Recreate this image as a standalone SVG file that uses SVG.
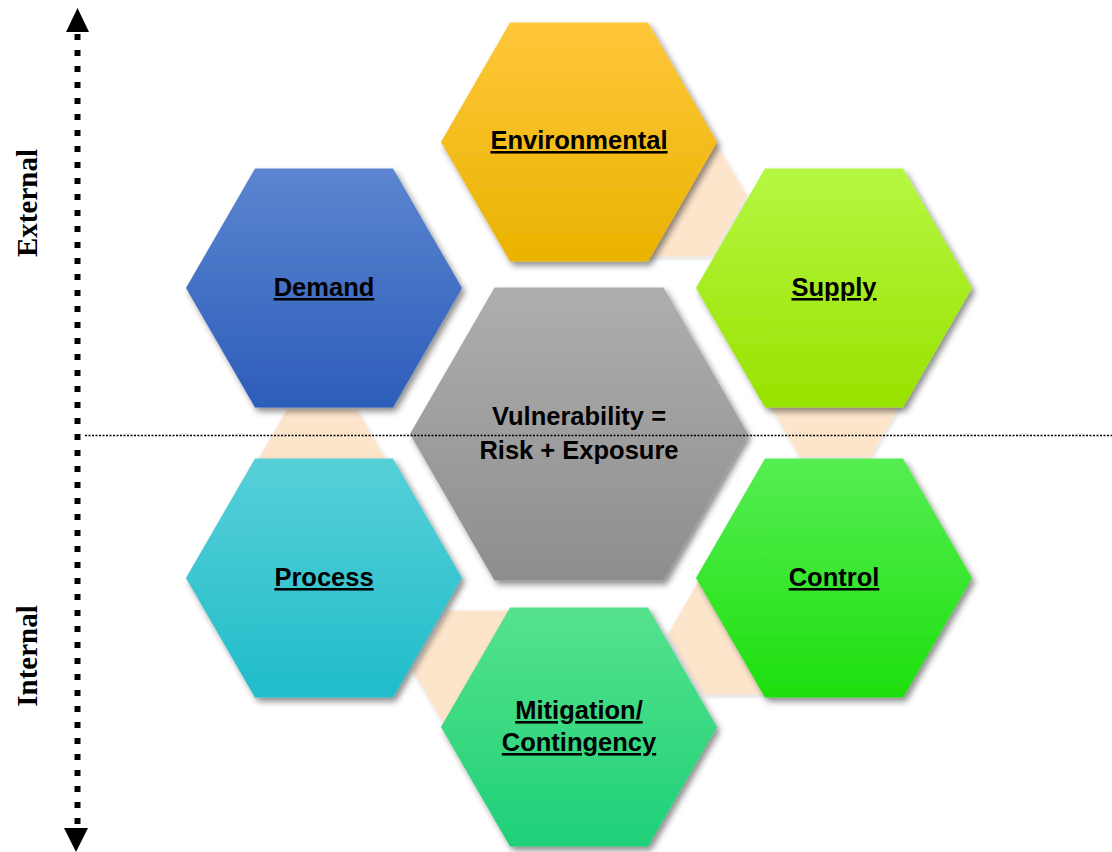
<svg xmlns="http://www.w3.org/2000/svg" width="1112" height="852" viewBox="0 0 1112 852">
<defs>
<style>
.lbl{font-family:"Liberation Sans",Arial,sans-serif;font-weight:bold;font-size:25.5px;fill:#000;text-anchor:middle;text-decoration:underline}
.ctr{font-family:"Liberation Sans",Arial,sans-serif;font-weight:bold;font-size:25.5px;fill:#000;text-anchor:middle}
.side{font-family:"Liberation Serif","Times New Roman",serif;font-weight:bold;font-size:29px;fill:#000;text-anchor:middle}
.conn{fill:#FDE5CC}
</style>
<filter id="sh" x="-20%" y="-20%" width="140%" height="140%">
<feDropShadow dx="3" dy="4" stdDeviation="3" flood-color="#000" flood-opacity="0.45"/>
</filter>
<filter id="sh2" x="-20%" y="-20%" width="140%" height="140%">
<feDropShadow dx="1" dy="2" stdDeviation="2" flood-color="#000" flood-opacity="0.15"/>
</filter>
<linearGradient id="gEnv" x1="0" y1="0" x2="0" y2="1"><stop offset="0" stop-color="#FFC73A"/><stop offset="1" stop-color="#E9B300"/></linearGradient>
<linearGradient id="gDem" x1="0" y1="0" x2="0" y2="1"><stop offset="0" stop-color="#5C85D0"/><stop offset="1" stop-color="#2C5DBA"/></linearGradient>
<linearGradient id="gSup" x1="0" y1="0" x2="0" y2="1"><stop offset="0" stop-color="#B5F742"/><stop offset="1" stop-color="#98E200"/></linearGradient>
<linearGradient id="gCen" x1="0" y1="0" x2="0" y2="1"><stop offset="0" stop-color="#AEAEAE"/><stop offset="1" stop-color="#8E8E8E"/></linearGradient>
<linearGradient id="gPro" x1="0" y1="0" x2="0" y2="1"><stop offset="0" stop-color="#57D0D8"/><stop offset="1" stop-color="#20BCCA"/></linearGradient>
<linearGradient id="gCon" x1="0" y1="0" x2="0" y2="1"><stop offset="0" stop-color="#55EE52"/><stop offset="1" stop-color="#1EDF0E"/></linearGradient>
<linearGradient id="gMit" x1="0" y1="0" x2="0" y2="1"><stop offset="0" stop-color="#55E28D"/><stop offset="1" stop-color="#1FD078"/></linearGradient>
</defs>
<rect width="1112" height="852" fill="#fff"/>

<g id="connectors">
<polygon class="conn" filter="url(#sh2)" points="607,196 642,135.4 712,135.4 747,196 712,256.6 642,256.6"/>
<polygon class="conn" filter="url(#sh2)" points="765,397 800,336.4 870,336.4 905,397 870,457.6 800,457.6"/>
<polygon class="conn" filter="url(#sh2)" points="668,634 703,573.4 773,573.4 808,634 773,694.6 703,694.6"/>
<polygon class="conn" filter="url(#sh2)" points="413,671 448,610.4 518,610.4 553,671 518,731.6 448,731.6"/>
<polygon class="conn" filter="url(#sh2)" points="252,470 287,409.4 357,409.4 392,470 357,530.6 287,530.6"/>
</g>

<g id="environmental">
<polygon fill="url(#gEnv)" filter="url(#sh)" points="441,142 510,22.5 648,22.5 717,142 648,261.5 510,261.5"/>
<text class="lbl" x="579" y="149">Environmental</text>
</g>
<g id="demand">
<polygon fill="url(#gDem)" filter="url(#sh)" points="186,288 255,168.5 393,168.5 462,288 393,407.5 255,407.5"/>
<text class="lbl" x="324" y="296">Demand</text>
</g>
<g id="supply">
<polygon fill="url(#gSup)" filter="url(#sh)" points="696,288 765,168.5 903,168.5 972,288 903,407.5 765,407.5"/>
<text class="lbl" x="834" y="296">Supply</text>
</g>
<g id="process">
<polygon fill="url(#gPro)" filter="url(#sh)" points="186,578 255,458.5 393,458.5 462,578 393,697.5 255,697.5"/>
<text class="lbl" x="324" y="586">Process</text>
</g>
<g id="control">
<polygon fill="url(#gCon)" filter="url(#sh)" points="696,578 765,458.5 903,458.5 972,578 903,697.5 765,697.5"/>
<text class="lbl" x="834" y="586">Control</text>
</g>
<g id="mitigation">
<polygon fill="url(#gMit)" filter="url(#sh)" points="441,727 510,607.5 648,607.5 717,727 648,846.5 510,846.5"/>
<text class="lbl" x="579" y="719">Mitigation/</text>
<text class="lbl" x="579" y="751">Contingency</text>
</g>
<g id="center">
<polygon fill="url(#gCen)" filter="url(#sh)" points="410,434 494.5,287.6 663.5,287.6 748,434 663.5,580.4 494.5,580.4"/>
<text class="ctr" x="579" y="425">Vulnerability =</text>
<text class="ctr" x="579" y="459">Risk + Exposure</text>
</g>

<g id="divider">
<line x1="85" y1="435.5" x2="1112" y2="435.5" stroke="#000" stroke-width="1.3" stroke-dasharray="2 1.5"/>
</g>

<g id="axis">
<line x1="77.5" y1="34" x2="77.5" y2="826" stroke="#000" stroke-width="6" stroke-dasharray="6 10"/>
<polygon points="77.5,8 66,32 89,32" fill="#000"/>
<polygon points="76,852 64,828 88,828" fill="#000"/>
<text class="side" transform="translate(37,203) rotate(-90)">External</text>
<text class="side" transform="translate(37,656) rotate(-90)">Internal</text>
</g>
</svg>
